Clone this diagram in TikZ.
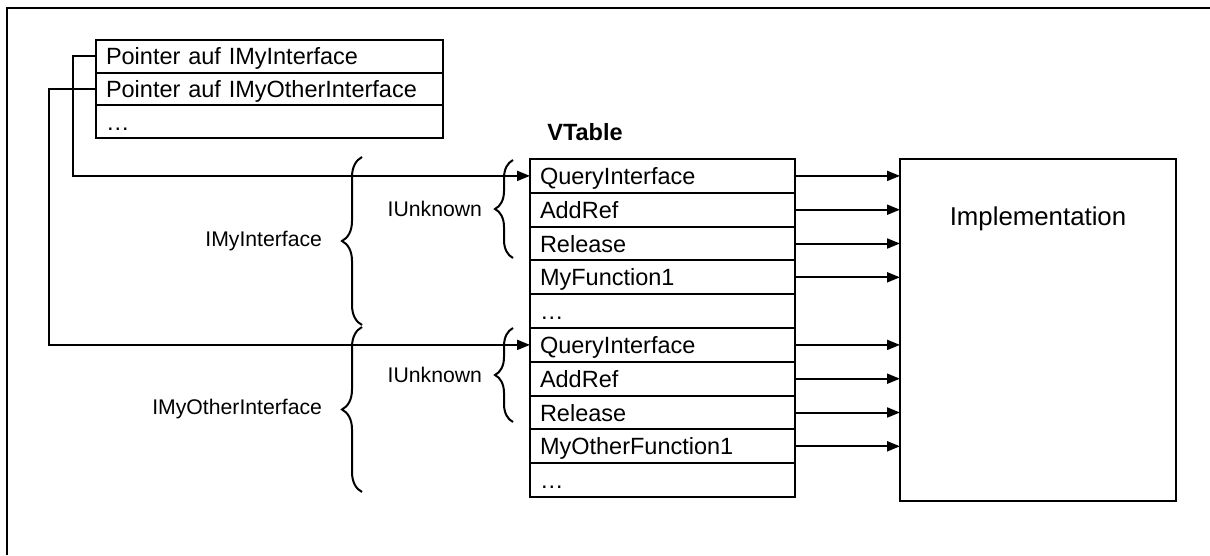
\documentclass[tikz,border=0pt]{standalone}
\usepackage{fontspec}
\setmainfont{Liberation Sans}
\usepackage{tikz}
\usetikzlibrary{arrows.meta}
\usetikzlibrary{decorations.pathreplacing}

\begin{document}
\begin{tikzpicture}[
  x=1pt,
  y=-1pt,
  >={Triangle[length=13pt,width=10pt]},
  line width=2pt,
  every node/.style={font=\fontsize{23.5}{28}\selectfont},
  cell/.style={draw, rectangle, anchor=north west, outer sep=0pt, inner xsep=10pt,
    text width=245pt, align=left, minimum height=33.8pt, text height=17pt, text depth=0pt},
  ptrcell/.style={cell, text width=327pt, minimum height=32.7pt},
  curly/.style={decorate, decoration={brace, amplitude=#1}},
  iflabel/.style={font=\fontsize{21.2}{25}\selectfont, anchor=east, inner sep=0pt},
]
\useasboundingbox (0,0) rectangle (1210,555);
\draw[line width=2.5pt] (7,555) -- (7,8) -- (1210,8);

\node[ptrcell] (ptr1) at (96,40) {Pointer auf IMyInterface};
\node[ptrcell] (ptr2) at (96,72.7) {Pointer auf IMyOtherInterface};
\node[ptrcell] (ptr3) at (96,105.4) {…};

\node[cell] (vt1) at (530,159) {QueryInterface};
\node[cell] (vt2) at (530,192.8) {AddRef};
\node[cell] (vt3) at (530,226.6) {Release};
\node[cell] (vt4) at (530,260.4) {MyFunction1};
\node[cell] (vt5) at (530,294.2) {…};
\node[cell] (vt6) at (530,328) {QueryInterface};
\node[cell] (vt7) at (530,361.8) {AddRef};
\node[cell] (vt8) at (530,395.6) {Release};
\node[cell] (vt9) at (530,429.4) {MyOtherFunction1};
\node[cell] (vt10) at (530,463.2) {…};
\node[anchor=base west, font=\bfseries\fontsize{23.5}{28}\selectfont] (vtable) at (543,140) {VTable};

\node[draw, rectangle, anchor=north west, outer sep=0pt, minimum width=276pt, minimum height=342pt] (impl) at (900,159) {};
\node[anchor=base, font=\fontsize{25.8}{30}\selectfont] (impltext) at (1038,225) {Implementation};

\draw[->] (ptr1.west) -- ++(-23,0) |- (vt1.west);
\draw[->] (ptr2.west) -- ++(-47,0) |- (vt6.west);

\path[->]
  (vt1.east) edge (vt1.east -| impl.west)
  (vt2.east) edge (vt2.east -| impl.west)
  (vt3.east) edge (vt3.east -| impl.west)
  (vt4.east) edge (vt4.east -| impl.west)
  (vt6.east) edge (vt6.east -| impl.west)
  (vt7.east) edge (vt7.east -| impl.west)
  (vt8.east) edge (vt8.east -| impl.west)
  (vt9.east) edge (vt9.east -| impl.west);

\draw[curly=18pt] (513,258) -- (513,160) node[iflabel, midway, xshift=-30pt] (iunk1) {IUnknown};
\draw[curly=18pt] (513,422) -- (513,328) node[iflabel, midway, xshift=-30pt] (iunk2) {IUnknown};
\draw[curly=20pt] (362,325) -- (362,157) node[iflabel, midway, xshift=-39pt] (ifmy) {IMyInterface};
\draw[curly=20pt] (362,492) -- (362,327) node[iflabel, midway, xshift=-39pt] (ifother) {IMyOtherInterface};

\end{tikzpicture}
\end{document}
